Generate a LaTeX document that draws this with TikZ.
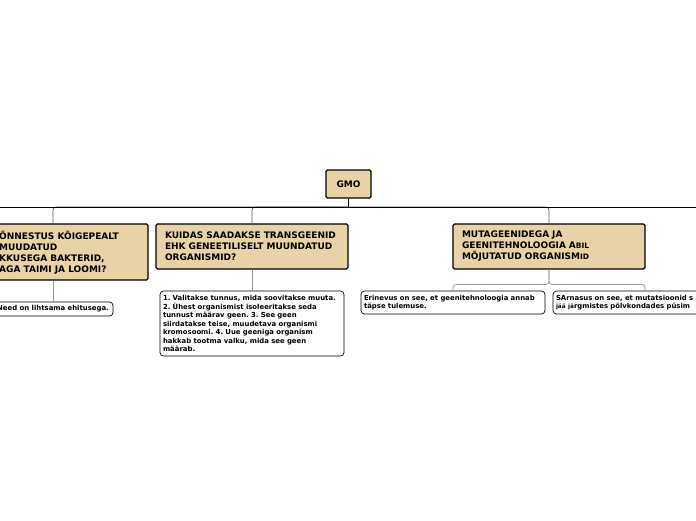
\documentclass[tikz,border=0pt]{standalone}
\usepackage{fontspec}
\setmainfont{DejaVu Sans}
\definecolor{tan}{RGB}{232,211,166}
\definecolor{subgray}{RGB}{150,150,150}
\definecolor{brgray}{RGB}{90,90,90}
\begin{document}
\frenchspacing
\begin{tikzpicture}[x=1pt,y=-1pt,
  qbox/.style={draw=black, fill=tan, line width=1.1pt, rounded corners=1.5pt, inner sep=0pt},
  qtext/.style={font=\bfseries\fontsize{9}{11}\selectfont, align=left, inner sep=0pt},
  abox/.style={draw=black, fill=white, line width=0.7pt, rounded corners=3.5pt, inner sep=0pt,
     font=\bfseries\fontsize{6.9}{8.5}\selectfont, align=left},
  topline/.style={draw=black, line width=1pt},
  branch/.style={draw=brgray, line width=0.7pt, rounded corners=3pt},
  sub/.style={draw=subgray, line width=0.7pt, rounded corners=3pt}]
\useasboundingbox (0,0) rectangle (696,520);
\clip (0,0) rectangle (696,520);
% root
\node[qbox, minimum width=45pt, minimum height=28pt, font=\bfseries\fontsize{9}{11}\selectfont] (gmo) at (348.5,184) {GMO};
% level 1
\node[qbox, minimum width=190pt, minimum height=56pt] (q1) at (53,252) {};
\node[qtext, anchor=west] (q1t) at (-1,252.5) {ÕNNESTUS KÕIGEPEALT\\MUUDATUD\\KKUSEGA BAKTERID,\\AGA TAIMI JA LOOMI?};
\node[qbox, minimum width=192pt, minimum height=45pt, text width=174pt, qtext, inner xsep=9pt] (q2) at (252,246.5) {KUIDAS SAADAKSE TRANSGEENID\\EHK GENEETILISELT MUUNDATUD\\ORGANISMID?};
\node[qbox, minimum width=192pt, minimum height=45pt, text width=174pt, qtext, inner xsep=9pt] (q3) at (549,246.5) {MUTAGEENIDEGA JA\\GEENITEHNOLOOGIA A{\fontsize{7.5}{11}\selectfont BIL}\\MÕJUTATUD ORGANISM{\fontsize{7.5}{11}\selectfont ID}};
% level 2
\node[abox, minimum width=120pt, minimum height=14pt, align=center] (a1) at (53,309) {Need on lihtsama ehitusega.};
\node[abox, minimum width=184pt, minimum height=65pt, text width=178pt, inner xsep=3pt] (a2) at (252,323.5) {1. Valitakse tunnus, mida soovitakse muuta.\\2. Ühest organismist isoleeritakse seda\\tunnust määrav geen. 3. See geen\\siirdatakse teise, muudetava organismi\\kromosoomi. 4. Uue geeniga organism\\hakkab tootma valku, mida see geen\\määrab.};
\node[abox, minimum width=184pt, minimum height=23pt, text width=178pt, inner xsep=3pt] (a3) at (453,302.5) {Erinevus on see, et geenitehnoloogia annab\\täpse tulemuse.};
\node[abox, minimum width=184pt, minimum height=23pt, text width=178pt, inner xsep=3pt] (a4) at (645,302.5) {SArnasus on see, et mutatsioonid s\\{\fontsize{5.8}{8.5}\selectfont jää jä}rgmistes põlvkondades püsim};
% connectors
\coordinate (hl) at (0,207);
\coordinate (hr) at (696,207);
\draw[branch] (gmo.south |- hl) -| (q1.north);
\draw[branch] (gmo.south |- hl) -| (q2.north);
\draw[branch] (gmo.south |- hl) -| (q3.north);
\draw[topline] (hl) -- (hr);
\draw[topline] (gmo.south) -- (gmo.south |- hl);
\draw[sub] (q1.south) -- (a1.north);
\draw[sub] (q2.south) -- (a2.north);
\draw[sub] (q3.south) -- ++(0,15) -| (a3.north);
\draw[sub] (q3.south) -- ++(0,15) -| (a4.north);
\end{tikzpicture}
\end{document}
